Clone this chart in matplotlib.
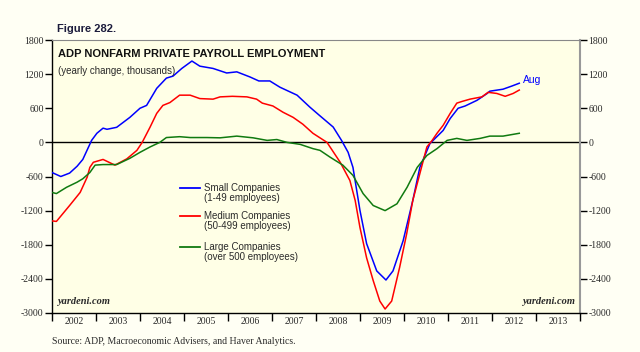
import numpy as np
import matplotlib
matplotlib.use("Agg")
import matplotlib.pyplot as plt

# ---------------------------------------------------------------------------
# data (decimal year, thousands)
# ---------------------------------------------------------------------------
small_t = [2002.0, 2002.2, 2002.4, 2002.57, 2002.7, 2002.9, 2003.02, 2003.16, 2003.25,
           2003.47, 2003.77, 2004.0, 2004.15, 2004.38, 2004.6, 2004.75, 2004.95, 2005.18,
           2005.36, 2005.66, 2005.97, 2006.2, 2006.5, 2006.7, 2006.95, 2007.18, 2007.57,
           2007.86, 2008.07, 2008.39, 2008.58, 2008.73, 2008.84, 2009.0, 2009.15, 2009.38,
           2009.59, 2009.75, 2009.98, 2010.2, 2010.36, 2010.59, 2010.89, 2011.05, 2011.23,
           2011.39, 2011.66, 2011.89, 2011.95, 2012.25, 2012.45, 2012.62]
small_v = [-530, -600, -540, -420, -300, 35, 160, 250, 230,
           265, 440, 600, 650, 950, 1130, 1165, 1300, 1430,
           1340, 1300, 1220, 1240, 1150, 1080, 1080, 970, 830,
           620, 480, 270, 35, -175, -440, -1200, -1780, -2260,
           -2420, -2260, -1730, -1020, -440, -20, 210, 420, 600,
           640, 740, 860, 900, 935, 990, 1040]

medium_t = [2002.0, 2002.1, 2002.4, 2002.64, 2002.8, 2002.86, 2002.94, 2003.16, 2003.43,
            2003.7, 2003.93, 2004.05, 2004.23, 2004.38, 2004.52, 2004.68, 2004.9, 2005.14,
            2005.36, 2005.66, 2005.82, 2006.1, 2006.43, 2006.65, 2006.78, 2007.02, 2007.25,
            2007.48, 2007.7, 2007.93, 2008.25, 2008.55, 2008.77, 2008.89, 2009.0, 2009.15,
            2009.3, 2009.45, 2009.57, 2009.72, 2009.9, 2010.06, 2010.2, 2010.36, 2010.52,
            2010.64, 2010.75, 2010.89, 2011.05, 2011.2, 2011.32, 2011.5, 2011.77, 2011.91,
            2012.11, 2012.3, 2012.48, 2012.62]
medium_v = [-1380, -1390, -1110, -880, -610, -440, -350, -300, -400,
            -290, -140, 0, 270, 510, 650, 700, 830, 830,
            770, 760, 800, 810, 800, 760, 690, 640, 530,
            440, 320, 160, 0, -350, -670, -1020, -1500, -2030,
            -2430, -2790, -2930, -2790, -2200, -1610, -1020, -550, -80,
            35, 160, 300, 510, 690, 720, 760, 800, 880,
            860, 810, 860, 920]

large_t = [2002.0, 2002.1, 2002.33, 2002.57, 2002.7, 2002.86, 2002.98, 2003.16, 2003.47,
           2003.77, 2004.0, 2004.23, 2004.45, 2004.6, 2004.9, 2005.14, 2005.52, 2005.82,
           2006.2, 2006.57, 2006.89, 2007.11, 2007.34, 2007.64, 2007.93, 2008.09, 2008.32,
           2008.61, 2008.84, 2009.07, 2009.3, 2009.57, 2009.84, 2010.07, 2010.3, 2010.52,
           2010.75, 2010.98, 2011.2, 2011.43, 2011.73, 2011.95, 2012.25, 2012.62]
large_v = [-880, -900, -790, -700, -640, -530, -400, -390, -390,
           -280, -175, -80, 0, 85, 100, 85, 85, 80,
           110, 80, 35, 50, 0, -35, -110, -140, -260,
           -400, -580, -900, -1110, -1200, -1080, -790, -440, -230,
           -110, 35, 70, 35, 70, 110, 110, 160]

years = list(range(2002, 2014))
yticks = [-3000, -2400, -1800, -1200, -600, 0, 600, 1200, 1800]

BLUE, RED, GREEN = "#0000ff", "#ff0000", "#107a10"
SERIF = "Liberation Serif"
SANS = "Liberation Sans"
TXT = "#2a2a2a"

fig = plt.figure(figsize=(6.4, 3.52), dpi=100, facecolor="#fffff4")
ax = fig.add_axes([52 / 640, 1 - 313 / 352, 528 / 640, 273 / 352])
ax.set_facecolor("#ffffe6")

ax.axhline(0, color="black", linewidth=1.0, zorder=2)
ax.plot(small_t, small_v, color=BLUE, linewidth=1.1, zorder=3)
ax.plot(medium_t, medium_v, color=RED, linewidth=1.1, zorder=3)
ax.plot(large_t, large_v, color=GREEN, linewidth=1.1, zorder=3)

ax.set_xlim(2002, 2014)
ax.set_ylim(-3000, 1800)

# y axis both sides
ax.set_yticks(yticks)
ax.set_yticklabels([str(v) for v in yticks])
ax.tick_params(axis="y", which="both", direction="out", length=5, width=1,
               labelsize=7, left=True, right=True, labelleft=True, labelright=True,
               pad=1, labelcolor=TXT)
for lab in ax.get_yticklabels():
    lab.set_fontfamily(SERIF)

# x axis: ticks at year boundaries, labels centred in between
ax.set_xticks(years + [2014])
ax.set_xticklabels([])
ax.tick_params(axis="x", direction="out", length=6, width=1)
ax.set_xticks([y + 0.5 for y in years], minor=True)
ax.set_xticklabels([str(y) for y in years], minor=True, fontsize=7, fontfamily=SERIF,
                   color=TXT)
ax.tick_params(axis="x", which="minor", length=0, pad=3)

for side in ["left", "bottom"]:
    ax.spines[side].set_color("black")
    ax.spines[side].set_linewidth(1.0)
ax.spines["right"].set_color("#999999")
ax.spines["right"].set_linewidth(1.5)
ax.spines["top"].set_color("#888888")
ax.spines["top"].set_linestyle((0, (1, 1)))
ax.spines["top"].set_linewidth(0.8)

# titles
fig.text(57 / 640, 1 - 29 / 352, "Figure 282.", fontsize=8, fontweight="bold",
         family=SANS, color="#1c1c3c", va="center", ha="left")
ax.text(0.012, 0.95, "ADP NONFARM PRIVATE PAYROLL EMPLOYMENT", transform=ax.transAxes,
        fontsize=8, fontweight="bold", family=SANS, color="#111111", va="center",
        ha="left")
ax.text(0.012, 0.885, "(yearly change, thousands)", transform=ax.transAxes,
        fontsize=7, family=SANS, color=TXT, va="center", ha="left")

# legend drawn by hand
legend_items = [("Small Companies", "(1-49 employees)", BLUE, 188),
                ("Medium Companies", "(50-499 employees)", RED, 216),
                ("Large Companies", "(over 500 employees)", GREEN, 247)]
for name, sub, col, ypix in legend_items:
    yf = 1 - ypix / 352
    fig.add_artist(plt.Line2D([180 / 640, 200 / 640], [yf, yf], color=col, linewidth=1.3))
    fig.text(204 / 640, yf, name, fontsize=7, family=SANS, color=TXT,
             va="center", ha="left")
    fig.text(204 / 640, yf - 10 / 352, sub, fontsize=7, family=SANS, color=TXT,
             va="center", ha="left")

ax.text(small_t[-1] + 0.08, small_v[-1] + 60, "Aug", color=BLUE, fontsize=7.5,
        family=SANS, va="center", ha="left")

# watermarks
ax.text(0.01, 0.025, "yardeni.com", transform=ax.transAxes, fontsize=7.5,
        fontweight="bold", fontstyle="italic", family=SERIF, color=TXT,
        va="bottom", ha="left")
ax.text(0.99, 0.025, "yardeni.com", transform=ax.transAxes, fontsize=7.5,
        fontweight="bold", fontstyle="italic", family=SERIF, color=TXT,
        va="bottom", ha="right")

fig.text(52 / 640, 1 - 341 / 352, "Source: ADP, Macroeconomic Advisers, and Haver Analytics.",
         fontsize=7, family=SERIF, color=TXT, va="center", ha="left")

fig.savefig("out.png", dpi=100, facecolor=fig.get_facecolor())
